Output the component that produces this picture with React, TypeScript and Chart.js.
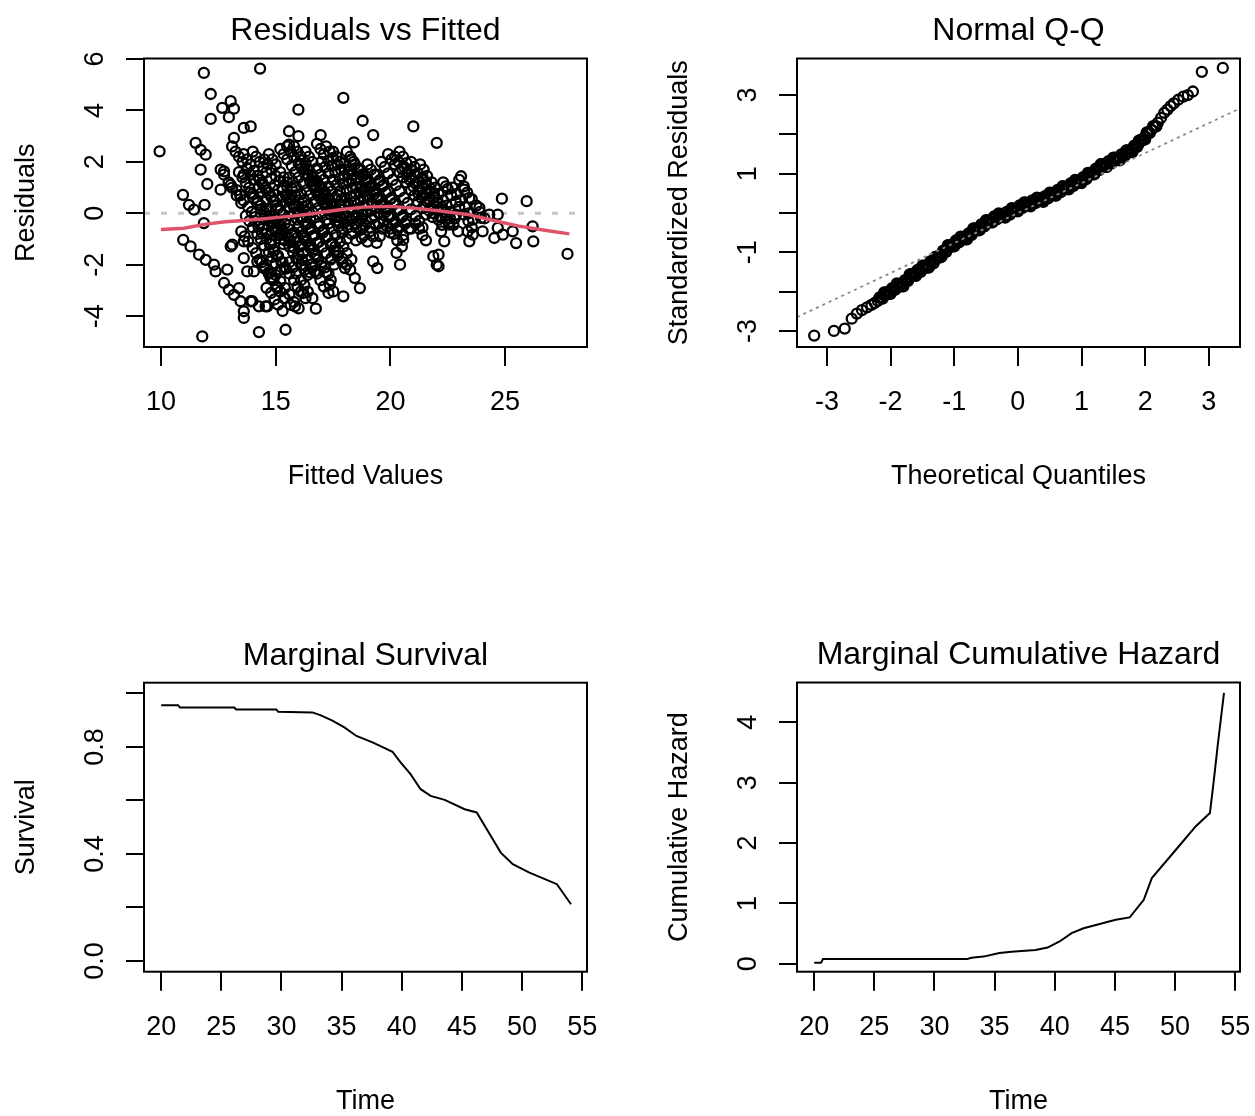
import React, { useEffect, useRef } from "react";
import { Chart, registerables } from "chart.js";

Chart.register(...registerables);

const FONT = '"Liberation Sans", Arial, Helvetica, sans-serif';

// ---------- Panel 1: Residuals vs Fitted ----------
const residPoints: [number, number][] = [
  // streak-like groups
  [12.6, 1.7], [12.75, 1.5], [12.95, 1.2], [13.1, 1.0], [13.3, 0.7], [13.5, 0.4],
  [13.1, 2.6], [13.25, 2.4], [13.4, 2.2], [13.55, 2.0], [13.75, 1.75], [13.9, 1.5], [14.05, 1.3], [14.25, 1.0], [14.4, 0.8], [14.6, 0.55],
  [13.3, 0.9], [13.45, 0.7], [13.6, 0.5], [13.8, 0.25], [13.95, 0.05], [14.1, -0.15], [14.3, -0.4], [14.45, -0.6], [14.6, -0.8], [14.8, -1.05],
  [13.5, -0.7], [13.65, -0.9], [13.8, -1.1], [14.0, -1.35], [14.15, -1.55], [14.3, -1.8], [14.5, -2.05], [14.7, -2.3], [14.85, -2.5],
  [14.0, 2.4], [14.15, 2.2], [14.3, 2.0], [14.45, 1.8], [14.6, 1.6], [14.8, 1.35], [14.95, 1.1], [15.1, 0.9], [15.3, 0.65], [15.45, 0.45], [15.6, 0.25], [15.8, 0.0], [15.95, -0.25],
  [14.3, 1.3], [14.45, 1.1], [14.6, 0.9], [14.8, 0.65], [14.95, 0.45], [15.1, 0.2], [15.3, -0.05], [15.45, -0.25], [15.6, -0.45], [15.8, -0.75], [15.95, -0.95], [16.15, -1.2],
  [14.6, 0.1], [14.75, -0.1], [14.9, -0.35], [15.1, -0.6], [15.25, -0.8], [15.4, -1.05], [15.6, -1.3], [15.75, -1.5], [15.9, -1.75], [16.1, -2.0], [16.25, -2.2], [16.4, -2.4],
  [14.8, -1.2], [14.95, -1.45], [15.1, -1.65], [15.3, -1.9], [15.45, -2.15], [15.6, -2.35], [15.8, -2.6], [15.95, -2.85], [16.1, -3.05], [16.3, -3.3],
  [15.0, -2.4], [15.2, -2.65], [15.4, -2.9], [15.6, -3.15], [15.8, -3.45], [16.0, -3.7],
  [15.2, 2.5], [15.35, 2.3], [15.5, 2.1], [15.7, 1.85], [15.85, 1.6], [16.0, 1.4], [16.2, 1.15], [16.35, 0.9], [16.5, 0.7], [16.7, 0.45], [16.85, 0.2], [17.0, 0.0], [17.2, -0.25],
  [15.6, 1.4], [15.75, 1.2], [15.9, 1.0], [16.1, 0.75], [16.25, 0.5], [16.4, 0.3], [16.6, 0.05], [16.75, -0.15], [16.9, -0.4], [17.1, -0.65], [17.25, -0.9], [17.45, -1.15],
  [15.9, 0.3], [16.05, 0.1], [16.2, -0.15], [16.4, -0.4], [16.55, -0.6], [16.7, -0.85], [16.9, -1.1], [17.05, -1.3], [17.2, -1.55], [17.4, -1.8], [17.55, -2.0],
  [16.2, -0.9], [16.35, -1.1], [16.5, -1.35], [16.7, -1.6], [16.85, -1.8], [17.0, -2.05], [17.2, -2.3], [17.4, -2.6],
  [16.3, 2.4], [16.45, 2.2], [16.6, 2.0], [16.8, 1.75], [16.95, 1.5], [17.1, 1.3], [17.3, 1.05], [17.45, 0.85], [17.6, 0.6], [17.8, 0.35], [17.95, 0.15], [18.1, -0.1], [18.3, -0.3], [18.5, -0.55],
  [16.8, 2.7], [16.95, 2.5], [17.1, 2.3], [17.3, 2.05], [17.45, 1.85], [17.6, 1.6], [17.8, 1.35], [17.95, 1.15], [18.1, 0.9], [18.3, 0.65], [18.45, 0.45], [18.6, 0.2], [18.8, -0.05], [18.95, -0.3],
  [17.0, 1.0], [17.15, 0.8], [17.3, 0.6], [17.5, 0.3], [17.65, 0.1], [17.8, -0.1], [18.0, -0.35], [18.15, -0.55], [18.3, -0.8], [18.5, -1.05],
  [17.5, 2.4], [17.65, 2.2], [17.8, 2.0], [18.0, 1.7], [18.15, 1.5], [18.3, 1.3], [18.5, 1.0], [18.65, 0.8], [18.8, 0.6], [19.0, 0.3], [19.15, 0.1], [19.3, -0.1], [19.5, -0.4], [19.65, -0.6],
  [18.0, 1.95], [18.2, 1.7], [18.35, 1.5], [18.5, 1.3], [18.7, 1.05], [18.85, 0.85], [19.0, 0.65], [19.2, 0.4], [19.35, 0.2], [19.5, 0.0], [19.7, -0.3], [19.85, -0.5], [20.0, -0.75],
  [18.7, 1.7], [18.85, 1.5], [19.0, 1.3], [19.2, 1.05], [19.35, 0.85], [19.5, 0.6], [19.7, 0.35], [19.85, 0.15], [20.0, -0.1], [20.2, -0.35], [20.35, -0.55], [20.55, -0.85],
  [19.4, 1.5], [19.55, 1.3], [19.7, 1.1], [19.9, 0.85], [20.05, 0.6], [20.2, 0.4], [20.4, 0.15], [20.55, -0.1], [20.7, -0.3], [20.9, -0.6],
  [19.9, 2.3], [20.05, 2.1], [20.2, 1.9], [20.4, 1.6], [20.55, 1.4], [20.7, 1.2], [20.9, 0.9], [21.05, 0.7], [21.2, 0.45], [21.4, 0.2], [21.55, -0.05],
  [20.6, 1.8], [20.75, 1.6], [20.9, 1.4], [21.1, 1.15], [21.25, 0.9], [21.4, 0.7], [21.6, 0.45], [21.75, 0.2], [21.9, 0.0], [22.1, -0.25], [22.25, -0.45],
  [21.4, 1.4], [21.55, 1.2], [21.75, 0.95], [21.9, 0.75], [22.05, 0.5], [22.25, 0.25], [22.4, 0.05], [22.6, -0.2], [22.75, -0.45], [22.95, -0.7],
  [22.3, 1.2], [22.5, 0.95], [22.65, 0.7], [22.85, 0.45], [23.0, 0.25], [23.2, -0.05], [23.4, -0.3], [23.55, -0.55],
  [23.0, 1.3], [23.2, 1.05], [23.35, 0.8], [23.55, 0.55], [23.75, 0.3], [23.9, 0.05], [24.1, -0.2],
  [16.6, -2.1], [16.8, -2.35], [16.95, -2.6], [17.1, -2.85], [17.3, -3.1],
  [17.6, -1.3], [17.75, -1.5], [17.9, -1.75], [18.1, -2.0], [18.25, -2.2],
  // additional dense streaks
  [13.6, 2.3], [13.75, 2.1], [13.9, 1.9], [14.05, 1.65], [14.2, 1.45], [14.4, 1.2], [14.55, 1.0], [14.7, 0.8], [14.9, 0.5], [15.05, 0.3], [15.2, 0.1],
  [13.9, 0.8], [14.05, 0.6], [14.2, 0.4], [14.35, 0.15], [14.55, -0.1], [14.7, -0.3], [14.85, -0.55], [15.0, -0.75], [15.2, -1.0], [15.35, -1.2],
  [14.1, -0.3], [14.25, -0.5], [14.4, -0.75], [14.6, -1.0], [14.75, -1.2], [14.9, -1.45], [15.05, -1.65], [15.25, -1.9], [15.4, -2.1],
  [14.4, -1.9], [14.55, -2.15], [14.7, -2.35], [14.9, -2.6], [15.05, -2.85], [15.2, -3.05], [15.4, -3.3],
  [14.7, 2.3], [14.85, 2.1], [15.0, 1.9], [15.2, 1.6], [15.35, 1.4], [15.5, 1.2], [15.7, 0.95], [15.85, 0.7], [16.0, 0.5], [16.2, 0.25], [16.35, 0.05], [16.5, -0.2],
  [15.3, 0.9], [15.45, 0.7], [15.6, 0.5], [15.8, 0.25], [15.95, 0.05], [16.1, -0.2], [16.3, -0.45], [16.45, -0.65], [16.6, -0.9], [16.8, -1.15],
  [15.4, -0.4], [15.55, -0.6], [15.7, -0.85], [15.9, -1.1], [16.05, -1.3], [16.2, -1.55], [16.4, -1.8], [16.55, -2.0], [16.7, -2.25],
  [15.6, -1.9], [15.75, -2.1], [15.9, -2.35], [16.1, -2.6], [16.25, -2.8], [16.4, -3.05], [16.6, -3.3],
  [15.8, 2.6], [15.95, 2.4], [16.1, 2.2], [16.3, 1.95], [16.45, 1.7], [16.6, 1.5], [16.8, 1.25], [16.95, 1.05], [17.1, 0.8], [17.3, 0.55], [17.45, 0.35], [17.6, 0.1], [17.8, -0.15],
  [16.6, 1.1], [16.75, 0.9], [16.9, 0.65], [17.1, 0.4], [17.25, 0.2], [17.4, -0.05], [17.6, -0.3], [17.75, -0.5], [17.9, -0.75], [18.1, -1.0],
  [16.9, -0.5], [17.05, -0.75], [17.2, -0.95], [17.4, -1.2], [17.55, -1.45], [17.7, -1.65], [17.9, -1.9],
  [17.2, 2.6], [17.35, 2.4], [17.5, 2.15], [17.7, 1.9], [17.85, 1.7], [18.0, 1.45], [18.2, 1.2], [18.35, 1.0], [18.5, 0.75], [18.7, 0.5], [18.85, 0.3], [19.0, 0.05], [19.2, -0.2], [19.35, -0.45],
  [17.7, 0.7], [17.85, 0.5], [18.0, 0.3], [18.2, 0.05], [18.35, -0.15], [18.5, -0.4], [18.7, -0.65], [18.85, -0.85], [19.0, -1.1],
  [18.3, 2.1], [18.45, 1.9], [18.6, 1.7], [18.8, 1.45], [18.95, 1.2], [19.1, 1.0], [19.3, 0.75], [19.45, 0.55], [19.6, 0.3], [19.8, 0.05], [19.95, -0.15], [20.1, -0.4], [20.3, -0.65],
  [19.0, 1.9], [19.15, 1.7], [19.3, 1.5], [19.5, 1.25], [19.65, 1.05], [19.8, 0.8], [20.0, 0.55], [20.15, 0.35], [20.3, 0.1], [20.5, -0.15], [20.65, -0.4], [20.8, -0.6],
  [20.2, 2.2], [20.35, 2.0], [20.5, 1.75], [20.7, 1.5], [20.85, 1.3], [21.0, 1.05], [21.2, 0.8], [21.35, 0.6], [21.5, 0.35], [21.7, 0.1], [21.85, -0.15],
  [20.9, 2.0], [21.05, 1.8], [21.2, 1.55], [21.4, 1.3], [21.55, 1.1], [21.7, 0.85], [21.9, 0.6], [22.05, 0.4], [22.2, 0.15], [22.4, -0.1], [22.55, -0.35],
  [21.1, -0.4], [21.25, -0.6], [21.4, -0.85], [21.55, -1.05],
  [22.7, 1.0], [22.9, 0.75], [23.05, 0.5], [23.25, 0.25], [23.4, 0.0], [23.6, -0.25],
  // more points in the dark core
  [13.4, 1.6], [13.55, 1.4], [13.7, 1.2], [13.85, 1.0], [14.0, 0.75], [14.2, 0.5], [14.35, 0.3], [14.5, 0.05], [14.7, -0.2], [14.85, -0.4], [15.0, -0.65], [15.15, -0.85],
  [13.7, -0.1], [13.85, -0.3], [14.0, -0.55], [14.2, -0.8], [14.35, -1.0], [14.5, -1.25], [14.7, -1.5], [14.85, -1.7], [15.0, -1.95], [15.2, -2.2],
  [14.5, 2.1], [14.65, 1.9], [14.8, 1.7], [15.0, 1.45], [15.15, 1.25], [15.3, 1.0], [15.5, 0.75], [15.65, 0.55], [15.8, 0.3], [16.0, 0.05], [16.15, -0.15], [16.3, -0.4],
  [15.0, -0.2], [15.15, -0.4], [15.3, -0.65], [15.5, -0.9], [15.65, -1.1], [15.8, -1.35], [16.0, -1.6], [16.15, -1.8], [16.3, -2.05], [16.5, -2.3],
  [15.5, 2.6], [15.65, 2.4], [15.8, 2.2], [16.0, 1.95], [16.15, 1.75], [16.3, 1.5], [16.5, 1.25], [16.65, 1.05], [16.8, 0.8], [17.0, 0.55], [17.15, 0.35], [17.3, 0.1],
  [16.0, -0.5], [16.15, -0.7], [16.3, -0.95], [16.5, -1.2], [16.65, -1.4], [16.8, -1.65], [17.0, -1.9], [17.15, -2.1], [17.3, -2.35],
  [16.1, 1.9], [16.25, 1.7], [16.4, 1.5], [16.6, 1.25], [16.75, 1.05], [16.9, 0.8], [17.1, 0.55], [17.25, 0.35], [17.4, 0.1], [17.6, -0.15], [17.75, -0.35], [17.9, -0.6],
  [17.0, 2.0], [17.15, 1.8], [17.3, 1.55], [17.5, 1.3], [17.65, 1.1], [17.8, 0.85], [18.0, 0.6], [18.15, 0.4], [18.3, 0.15], [18.5, -0.1], [18.65, -0.3], [18.8, -0.55],
  [17.3, -0.4], [17.45, -0.6], [17.6, -0.85], [17.8, -1.1], [17.95, -1.3], [18.1, -1.55], [18.3, -1.8],
  [18.1, 2.4], [18.25, 2.2], [18.4, 2.0], [18.6, 1.75], [18.75, 1.5], [18.9, 1.3], [19.1, 1.05], [19.25, 0.85], [19.4, 0.6], [19.6, 0.35], [19.75, 0.15], [19.9, -0.1],
  [18.6, 0.0], [18.75, -0.2], [18.9, -0.45], [19.1, -0.7], [19.25, -0.9], [19.4, -1.15],
  [19.6, 2.0], [19.75, 1.8], [19.9, 1.55], [20.1, 1.3], [20.25, 1.1], [20.4, 0.85], [20.6, 0.6], [20.75, 0.4], [20.9, 0.15], [21.1, -0.1], [21.25, -0.3], [21.4, -0.55],
  [20.4, 2.4], [20.55, 2.2], [20.7, 1.95], [20.9, 1.7], [21.05, 1.5], [21.2, 1.25], [21.4, 1.0], [21.55, 0.8], [21.7, 0.55], [21.9, 0.3], [22.05, 0.1], [22.2, -0.15],
  [21.3, 1.9], [21.45, 1.7], [21.6, 1.45], [21.8, 1.2], [21.95, 1.0], [22.1, 0.75], [22.3, 0.5], [22.45, 0.3], [22.6, 0.05], [22.8, -0.2],
  [20.0, -0.6], [20.15, -0.8], [20.3, -1.05], [20.5, -1.3],
  [14.6, -2.9], [14.8, -3.1], [14.95, -3.35], [15.1, -3.55], [15.3, -3.8],
  // scattered points
  [9.94, 2.41], [11.87, 5.46], [14.32, 5.63], [12.17, 4.64], [12.67, 4.1], [13.04, 4.36], [13.18, 4.07], [12.96, 3.74], [12.17, 3.67],
  [11.51, 2.74], [11.73, 2.47], [11.95, 2.28], [11.73, 1.7], [12.02, 1.14], [10.96, 0.72], [11.22, 0.33], [11.44, 0.14], [11.9, 0.33],
  [10.97, -1.03], [11.29, -1.29], [11.66, -1.61], [11.95, -1.81], [12.31, -2.0], [12.38, -2.26], [11.87, -0.38], [13.04, -1.29],
  [12.89, -2.19], [12.75, -2.71], [12.96, -2.97], [13.18, -3.17], [13.4, -2.91], [13.47, -3.42], [13.61, -3.81], [13.91, -3.42],
  [14.27, -3.62], [14.56, -3.62], [13.61, -4.07], [14.27, -4.62], [11.8, -4.79], [15.43, -4.53], [13.18, 2.93], [13.61, 3.32],
  [13.91, 3.38], [15.58, 3.19], [15.58, 2.67], [12.75, 1.63], [12.6, 0.92], [13.04, 1.11], [13.47, 0.72], [13.61, 1.5],
  [13.11, -1.22], [13.61, -1.09], [13.61, -1.74], [13.76, -2.26], [14.05, -2.26], [14.2, -1.87], [14.49, -2.13], [14.78, -2.52],
  [15.07, -2.91], [15.36, -3.3], [15.65, -3.56], [13.98, -3.42], [14.63, -3.62],
  [17.95, 4.49], [15.99, 4.03], [18.79, 3.6], [19.25, 3.04], [18.41, 2.76], [21.0, 3.38], [22.02, 2.74], [16.96, 3.04], [15.99, 3.0],
  [16.75, -3.71], [17.95, -3.23], [18.67, -2.91], [18.45, -2.52], [18.02, -2.13], [19.25, -1.87], [19.43, -2.13], [17.43, -1.74],
  [17.51, -3.04], [17.36, -2.78], [16.2, -3.1], [15.84, -3.62], [22.02, -2.0], [21.87, -1.67], [20.42, -2.0], [20.27, -1.54],
  [20.56, -1.03], [19.54, -0.89], [19.11, -0.57], [18.75, -0.96],
  [23.08, 1.44], [22.42, 1.05], [23.22, 0.92], [23.44, 0.6], [23.88, 0.21], [24.86, 0.57], [25.94, 0.47], [26.2, -0.51], [26.23, -1.09],
  [25.48, -1.16], [25.33, -0.7], [24.53, -0.96], [24.68, -0.57], [24.9, -0.83], [23.44, -1.09], [23.59, -0.83], [23.37, -0.7],
  [24.02, -0.7], [27.72, -1.58], [24.31, -0.05], [24.68, -0.05], [23.95, -0.18], [22.35, -1.09], [22.1, -1.61], [22.1, -2.06],
  [22.86, -0.05], [22.57, -0.44], [22.21, -0.7],
];
const loessX = [10.0, 11.0, 11.9, 12.8, 13.6, 14.4, 15.1, 15.8, 16.5, 17.1, 17.8, 18.8, 20.0, 21.1, 22.1, 23.4, 24.6, 25.6, 26.8, 27.8];
const loessY = [-0.63, -0.58, -0.43, -0.33, -0.28, -0.22, -0.16, -0.1, -0.03, 0.05, 0.14, 0.24, 0.27, 0.19, 0.1, -0.05, -0.3, -0.5, -0.67, -0.8];
const zeroLineX = [9.26, 28.57];
const zeroLineY = [0, 0];
const p1XTicks = [10, 15, 20, 25];
const p1YTicks = [-4, -2, 0, 2, 4, 6];

// ---------- Panel 2: Normal Q-Q ----------
const qqPoints: [number, number][] = [
  [-3.2, -3.12], [-2.89, -3.0], [-2.72, -2.94], [-2.61, -2.69], [-2.53, -2.56], [-2.45, -2.47], [-2.37, -2.4], [-2.3, -2.34], [-2.25, -2.29],
  [-2.2, -2.24], [-2.15, -2.16], [-2.1, -2.1], [-2.05, -2.03], [-2.0, -1.98], [-1.95, -1.93], [-1.9, -1.87], [-1.85, -1.85], [-1.8, -1.79],
  [-1.75, -1.72], [-1.7, -1.64], [-1.65, -1.56], [-1.6, -1.52], [-1.55, -1.47], [-1.5, -1.42], [-1.45, -1.36], [-1.4, -1.31], [-1.35, -1.25],
  [-1.3, -1.2], [-1.25, -1.12], [-1.2, -1.04], [-1.15, -0.97], [-1.1, -0.9], [-1.05, -0.83], [-1.0, -0.77], [-0.95, -0.72], [-0.9, -0.68],
  [-0.85, -0.64], [-0.8, -0.59], [-0.75, -0.54], [-0.7, -0.47], [-0.65, -0.41], [-0.6, -0.36], [-0.55, -0.31], [-0.5, -0.26], [-0.45, -0.21],
  [-0.4, -0.16], [-0.35, -0.12], [-0.3, -0.09], [-0.25, -0.06], [-0.2, -0.04], [-0.15, -0.01], [-0.1, 0.04], [-0.05, 0.08], [0.0, 0.12],
  [0.05, 0.16], [0.1, 0.19], [0.15, 0.22], [0.2, 0.25], [0.25, 0.28], [0.3, 0.31], [0.35, 0.33], [0.4, 0.36], [0.45, 0.4], [0.5, 0.44],
  [0.55, 0.48], [0.6, 0.52], [0.65, 0.56], [0.7, 0.6], [0.75, 0.64], [0.8, 0.68], [0.85, 0.72], [0.9, 0.76], [0.95, 0.8], [1.0, 0.84],
  [1.05, 0.88], [1.1, 0.94], [1.15, 1.0], [1.2, 1.06], [1.25, 1.11], [1.3, 1.16], [1.35, 1.21], [1.4, 1.25], [1.45, 1.29], [1.5, 1.33],
  [1.55, 1.38], [1.6, 1.42], [1.65, 1.46], [1.7, 1.51], [1.75, 1.57], [1.8, 1.63], [1.85, 1.69], [1.9, 1.76], [1.95, 1.86], [2.0, 1.95],
  [2.05, 2.05], [2.1, 2.12], [2.15, 2.2], [2.2, 2.3], [2.25, 2.42], [2.3, 2.55], [2.35, 2.63], [2.4, 2.72], [2.45, 2.79], [2.52, 2.88],
  [2.6, 2.96], [2.67, 3.0], [2.75, 3.09], [2.89, 3.59], [3.22, 3.69],
  // points filling the thickness of the dense band
  [-2.175, -2.15], [-2.125, -2.18], [-2.075, -2.02], [-2.025, -2.06], [-1.975, -1.91], [-1.925, -1.95], [-1.875, -1.81], [-1.825, -1.87],
  [-1.775, -1.71], [-1.725, -1.73], [-1.675, -1.55], [-1.625, -1.59], [-1.575, -1.45], [-1.525, -1.5], [-1.475, -1.34], [-1.425, -1.39],
  [-1.375, -1.23], [-1.325, -1.28], [-1.275, -1.11], [-1.225, -1.13], [-1.175, -0.96], [-1.125, -0.99], [-1.075, -0.82], [-1.025, -0.85],
  [-0.975, -0.7], [-0.925, -0.75], [-0.875, -0.61], [-0.825, -0.67], [-0.775, -0.52], [-0.725, -0.56], [-0.675, -0.39], [-0.625, -0.44],
  [-0.575, -0.29], [-0.525, -0.34], [-0.475, -0.19], [-0.425, -0.24], [-0.375, -0.09], [-0.325, -0.16], [-0.275, -0.03], [-0.225, -0.1],
  [-0.175, 0.03], [-0.125, -0.04], [-0.075, 0.11], [-0.025, 0.05], [0.025, 0.19], [0.075, 0.13], [0.125, 0.26], [0.175, 0.19],
  [0.225, 0.32], [0.275, 0.25], [0.325, 0.37], [0.375, 0.3], [0.425, 0.43], [0.475, 0.37], [0.525, 0.51], [0.575, 0.45],
  [0.625, 0.59], [0.675, 0.53], [0.725, 0.67], [0.775, 0.61], [0.825, 0.75], [0.875, 0.69], [0.925, 0.83], [0.975, 0.77],
  [1.025, 0.91], [1.075, 0.86], [1.125, 1.02], [1.175, 0.98], [1.225, 1.13], [1.275, 1.09], [1.325, 1.24], [1.375, 1.18],
  [1.425, 1.32], [1.475, 1.26], [1.525, 1.41], [1.575, 1.35], [1.625, 1.49], [1.675, 1.44], [1.725, 1.59], [1.775, 1.55],
  [1.825, 1.71], [1.875, 1.68], [1.925, 1.86], [1.975, 1.86], [2.025, 2.05], [2.075, 2.04], [2.125, 2.21], [2.175, 2.2],
  [-2.1, -2.02], [-2.0, -2.06], [-1.9, -1.79], [-1.8, -1.87], [-1.7, -1.56], [-1.6, -1.6], [-1.5, -1.34], [-1.4, -1.39],
  [-1.3, -1.12], [-1.2, -1.12], [-1.1, -0.82], [-1.0, -0.85], [-0.9, -0.6], [-0.8, -0.67], [-0.7, -0.39], [-0.6, -0.44],
  [-0.5, -0.18], [-0.4, -0.24], [-0.3, -0.01], [-0.2, -0.12], [-0.1, 0.12], [0.0, 0.04], [0.1, 0.27], [0.2, 0.17],
  [0.3, 0.39], [0.4, 0.28], [0.5, 0.52], [0.6, 0.44], [0.7, 0.68], [0.8, 0.6], [0.9, 0.84], [1.0, 0.76],
  [1.1, 1.02], [1.2, 0.98], [1.3, 1.24], [1.4, 1.17], [1.5, 1.41], [1.6, 1.34], [1.7, 1.59], [1.8, 1.55], [1.9, 1.84], [2.0, 1.87],
];
const qqLineX = [-3.47, 3.49];
const qqLineY = [-2.65, 2.66];
const p2XTicks = [-3, -2, -1, 0, 1, 2, 3];
const p2YTicks = [-3, -2, -1, 0, 1, 2, 3];
const p2YLabels = ["-3", "", "-1", "", "1", "", "3"];

// ---------- Panel 3: Marginal Survival ----------
const survTime = [20.0, 21.4, 21.57, 26.07, 26.23, 29.57, 29.73, 32.57, 33.23, 34.23, 35.23, 36.23, 37.57, 39.23, 39.9, 40.73, 41.57, 42.4, 43.57, 45.23, 46.23, 47.07, 48.23, 49.23, 50.57, 51.9, 52.9, 54.07];
const survProb = [0.956, 0.956, 0.947, 0.947, 0.94, 0.94, 0.931, 0.929, 0.919, 0.898, 0.873, 0.841, 0.817, 0.782, 0.742, 0.698, 0.642, 0.617, 0.602, 0.567, 0.555, 0.492, 0.405, 0.362, 0.331, 0.306, 0.287, 0.212];
const timeTicks = [20, 25, 30, 35, 40, 45, 50, 55];
const p3YTicks = [0, 0.2, 0.4, 0.6, 0.8, 1.0];
const p3YLabels = ["0.0", "", "0.4", "", "0.8", ""];

// ---------- Panel 4: Marginal Cumulative Hazard ----------
const hazTime = [20.0, 20.57, 20.73, 32.73, 33.07, 34.07, 35.4, 36.4, 38.4, 39.4, 40.4, 41.4, 42.4, 43.73, 45.07, 46.23, 47.4, 48.07, 50.07, 51.73, 52.9, 53.23, 53.57, 54.07];
const hazVal = [0.02, 0.02, 0.08, 0.08, 0.1, 0.12, 0.18, 0.2, 0.23, 0.27, 0.37, 0.51, 0.59, 0.66, 0.73, 0.77, 1.06, 1.42, 1.89, 2.28, 2.5, 3.05, 3.66, 4.49];
const p4YTicks = [0, 1, 2, 3, 4];

type Spec = {
  left: number; top: number; w: number; h: number;
  pad: { left: number; top: number; right: number; bottom: number };
  xMin: number; xMax: number; yMin: number; yMax: number;
  xTicks: number[]; xLabels: string[];
  yTicks: number[]; yLabels: string[];
  title: string; xTitle: string; yTitle: string;
  datasets: any[];
};

const PR = 5;
const PBW = 2.3;
const pointStyleOpts = {
  pointStyle: "circle",
  radius: PR,
  pointRadius: PR,
  hoverRadius: PR,
  pointHoverRadius: PR,
  pointBorderWidth: PBW,
  borderWidth: PBW,
  pointBorderColor: "#000",
  pointBackgroundColor: "rgba(0,0,0,0)",
  borderColor: "#000",
  backgroundColor: "rgba(0,0,0,0)",
};

const lineOpts = { showLine: true, pointRadius: 0, radius: 0, pointHoverRadius: 0, hoverRadius: 0, tension: 0 };

const specs: Spec[] = [
  {
    left: 0, top: 0, w: 627, h: 558,
    pad: { left: 126, top: 58.5, right: 40, bottom: 192 },
    xMin: 9.26, xMax: 28.57, yMin: -5.2, yMax: 6.02,
    xTicks: p1XTicks, xLabels: p1XTicks.map(String),
    yTicks: p1YTicks, yLabels: p1YTicks.map(String),
    title: "Residuals vs Fitted", xTitle: "Fitted Values", yTitle: "Residuals",
    datasets: [
      { data: loessX.map((x, i) => ({ x, y: loessY[i] })), ...lineOpts, borderColor: "#DF536B", borderWidth: 3.4 },
      { data: residPoints.map(([x, y]) => ({ x, y })), showLine: false, ...pointStyleOpts },
      { data: zeroLineX.map((x, i) => ({ x, y: zeroLineY[i] })), ...lineOpts, borderColor: "#c4c4c4", borderWidth: 3, borderDash: [6, 11] },
    ],
  },
  {
    left: 627, top: 0, w: 628, h: 558,
    pad: { left: 152, top: 58.5, right: 15, bottom: 192 },
    xMin: -3.47, xMax: 3.49, yMin: -3.41, yMax: 3.93,
    xTicks: p2XTicks, xLabels: p2XTicks.map(String),
    yTicks: p2YTicks, yLabels: p2YLabels,
    title: "Normal Q-Q", xTitle: "Theoretical Quantiles", yTitle: "Standardized Residuals",
    datasets: [
      { data: qqLineX.map((x, i) => ({ x, y: qqLineY[i] })), ...lineOpts, borderColor: "#8a8a8a", borderWidth: 1.8, borderDash: [3, 4] },
      { data: qqPoints.map(([x, y]) => ({ x, y })), showLine: false, ...pointStyleOpts },
    ],
  },
  {
    left: 0, top: 558, w: 627, h: 558,
    pad: { left: 126, top: 124.7, right: 40, bottom: 125.3 },
    xMin: 18.57, xMax: 55.4, yMin: -0.04, yMax: 1.04,
    xTicks: timeTicks, xLabels: timeTicks.map(String),
    yTicks: p3YTicks, yLabels: p3YLabels,
    title: "Marginal Survival", xTitle: "Time", yTitle: "Survival",
    datasets: [
      { data: survTime.map((x, i) => ({ x, y: survProb[i] })), ...lineOpts, borderColor: "#000", borderWidth: 2 },
    ],
  },
  {
    left: 627, top: 558, w: 628, h: 558,
    pad: { left: 152, top: 124.5, right: 15, bottom: 125.3 },
    xMin: 18.57, xMax: 55.4, yMin: -0.13, yMax: 4.66,
    xTicks: timeTicks, xLabels: timeTicks.map(String),
    yTicks: p4YTicks, yLabels: p4YTicks.map(String),
    title: "Marginal Cumulative Hazard", xTitle: "Time", yTitle: "Cumulative Hazard",
    datasets: [
      { data: hazTime.map((x, i) => ({ x, y: hazVal[i] })), ...lineOpts, borderColor: "#000", borderWidth: 2 },
    ],
  },
];

function makeDecor(spec: Spec) {
  return {
    id: "decor",
    afterDraw(chart: any) {
      const { ctx, chartArea: a, scales } = chart;
      ctx.save();
      ctx.strokeStyle = "#000";
      ctx.lineWidth = 2;
      ctx.strokeRect(a.left, a.top, a.right - a.left, a.bottom - a.top);
      ctx.fillStyle = "#000";
      ctx.textAlign = "center";
      ctx.textBaseline = "middle";
      ctx.font = `27px ${FONT}`;
      spec.xTicks.forEach((v, i) => {
        const px = scales.x.getPixelForValue(v);
        ctx.fillText(spec.xLabels[i], px, a.bottom + 56);
      });
      spec.yTicks.forEach((v, i) => {
        const lab = spec.yLabels[i];
        if (!lab) return;
        const py = scales.y.getPixelForValue(v);
        ctx.save();
        ctx.translate(a.left - 48, py);
        ctx.rotate(-Math.PI / 2);
        ctx.fillText(lab, 0, 0);
        ctx.restore();
      });
      const cx = (a.left + a.right) / 2;
      const cy = (a.top + a.bottom) / 2;
      ctx.fillText(spec.xTitle, cx, a.bottom + 130);
      ctx.save();
      ctx.translate(a.left - 117, cy);
      ctx.rotate(-Math.PI / 2);
      ctx.fillText(spec.yTitle, 0, 0);
      ctx.restore();
      ctx.font = `32px ${FONT}`;
      ctx.fillText(spec.title, cx, a.top - 27);
      ctx.restore();
    },
  };
}

function Panel({ spec }: { spec: Spec }) {
  const ref = useRef<HTMLCanvasElement>(null);
  useEffect(() => {
    const canvas = ref.current!;
    const mkScale = (min: number, max: number, ticks: number[], tl: number) => ({
      type: "linear",
      min,
      max,
      afterBuildTicks: (axis: any) => {
        axis.ticks = ticks.map((v) => ({ value: v }));
      },
      ticks: { display: false, includeBounds: false },
      grid: { display: true, drawOnChartArea: false, drawTicks: true, tickLength: tl, color: "#000", lineWidth: 2 },
      border: { display: false },
      title: { display: false },
    });
    const datasets = spec.datasets.map((d) => ({ ...d, data: d.data.map((p: any) => ({ ...p })) }));
    const chart = new Chart(canvas, {
      type: "scatter",
      data: { datasets },
      options: {
        animation: false,
        responsive: false,
        devicePixelRatio: 1,
        events: [],
        layout: { padding: spec.pad },
        elements: {
          point: { radius: PR, hoverRadius: PR, borderWidth: PBW, hoverBorderWidth: PBW, pointStyle: "circle", borderColor: "#000", backgroundColor: "rgba(0,0,0,0)" },
        },
        plugins: { legend: { display: false }, tooltip: { enabled: false }, title: { display: false } },
        scales: {
          x: mkScale(spec.xMin, spec.xMax, spec.xTicks, 19),
          y: mkScale(spec.yMin, spec.yMax, spec.yTicks, 18),
        },
      } as any,
      plugins: [makeDecor(spec)],
    });
    return () => chart.destroy();
  }, [spec]);
  return (
    <canvas
      ref={ref}
      width={spec.w}
      height={spec.h}
      style={{ position: "absolute", left: spec.left, top: spec.top, width: spec.w, height: spec.h }}
    />
  );
}

export default function App() {
  return (
    <div style={{ position: "absolute", left: 0, top: 0, width: 1255, height: 1116, background: "#fff", overflow: "hidden" }}>
      {specs.map((s, i) => (
        <Panel key={i} spec={s} />
      ))}
    </div>
  );
}
